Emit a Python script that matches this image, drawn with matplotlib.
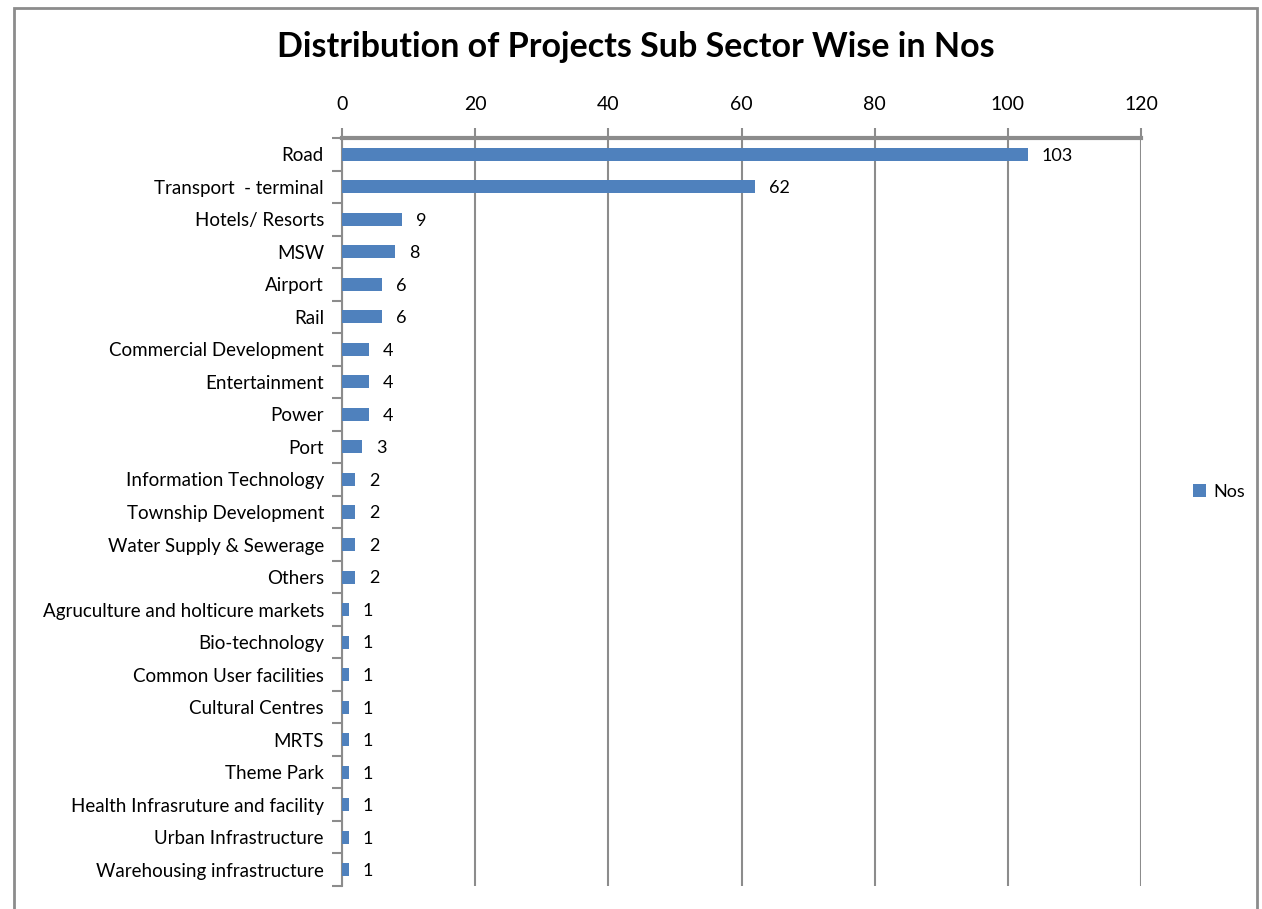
import matplotlib.pyplot as plt
from matplotlib.patches import Rectangle
import numpy as np

categories = ["Road", "Transport  - terminal", "Hotels/ Resorts", "MSW", "Airport", "Rail",
              "Commercial Development", "Entertainment", "Power", "Port",
              "Information Technology", "Township Development", "Water Supply & Sewerage",
              "Others", "Agruculture and holticure markets", "Bio-technology",
              "Common User facilities", "Cultural Centres", "MRTS", "Theme Park",
              "Health Infrasruture and facility", "Urban Infrastructure",
              "Warehousing infrastructure"]
nos = [103, 62, 9, 8, 6, 6, 4, 4, 4, 3, 2, 2, 2, 2, 1, 1, 1, 1, 1, 1, 1, 1, 1]
xticks = [0, 20, 40, 60, 80, 100, 120]

plt.rcParams['font.family'] = ['Lato', 'DejaVu Sans']
grey = '#8c8c8c'
blue = '#4f81bd'

fig = plt.figure(figsize=(12.62, 9.09), dpi=100)
fig.patches.append(Rectangle((14 / 1262, -0.05), 1243 / 1262, 1.05 - 8 / 909,
                             transform=fig.transFigure, fill=False,
                             edgecolor=grey, linewidth=2))

ax = fig.add_axes([342 / 1262, 1 - 886 / 909, 799 / 1262, 748 / 909])
y = np.arange(len(categories))
bars = ax.barh(y, nos, height=0.4, color=blue, label='Nos', zorder=3)
for bar, v in zip(bars, nos):
    ax.annotate(str(v), (bar.get_width(), bar.get_y() + bar.get_height() / 2),
                xytext=(10, -1), textcoords='offset points',
                va='center', ha='left', fontsize=13)

ax.set_xlim(0, 120)
ax.set_ylim(len(categories) - 0.5, -0.5)
ax.xaxis.tick_top()
ax.set_xticks(xticks)
ax.tick_params(axis='x', length=7, color=grey, width=1.5, labelsize=14, pad=11)
ax.set_yticks(y)
ax.set_yticklabels(categories, fontsize=13.5)
ax.tick_params(axis='y', length=0, pad=13)
ax.set_yticks(np.arange(-0.5, len(categories)), minor=True)
ax.tick_params(axis='y', which='minor', length=7, color=grey, width=1.5)
ax.grid(axis='x', color=grey, linewidth=1.5, zorder=0)
for s in ['right', 'bottom']:
    ax.spines[s].set_visible(False)
ax.spines['left'].set_color(grey)
ax.spines['left'].set_linewidth(1.5)
ax.spines['top'].set_color(grey)
ax.spines['top'].set_linewidth(3)

fig.text(636 / 1262, 1 - 47 / 909, 'Distribution of Projects Sub Sector Wise in Nos',
         ha='center', va='center', fontsize=24.5, fontweight='bold')
fig.legend(loc='center left', bbox_to_anchor=(1177 / 1262, 1 - 492 / 909), frameon=False,
           fontsize=13, handlelength=0.7, handleheight=0.7, handletextpad=0.4)

fig.savefig('out.png', dpi=100)
